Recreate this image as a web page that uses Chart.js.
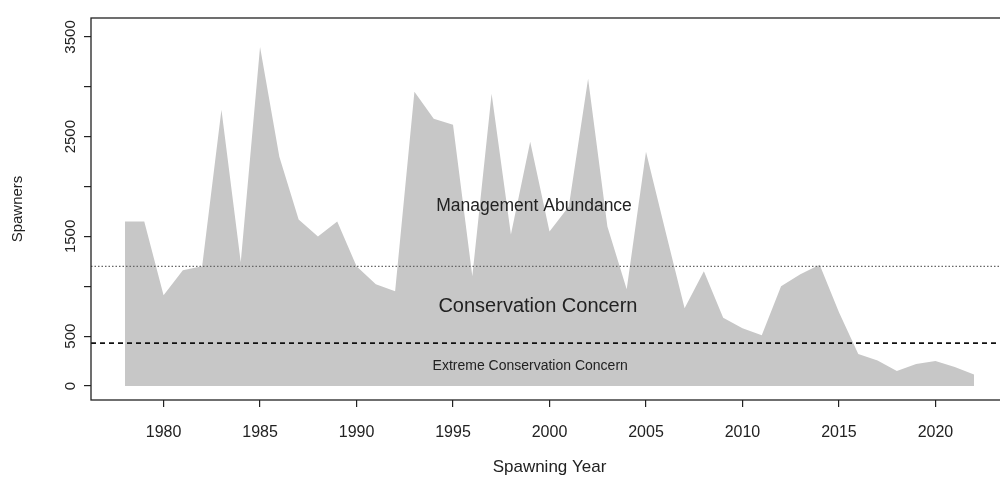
<!DOCTYPE html>
<html>
<head>
<meta charset="utf-8">
<script src="https://cdn.jsdelivr.net/npm/chart.js@4.4.0/dist/chart.umd.min.js"></script>
<style>
  html, body { margin: 0; padding: 0; background: #fff; overflow: hidden; }
  #wrap { width: 1010px; height: 484px; }
</style>
</head>
<body>
<div id="wrap"><canvas id="spawnChart" width="1010" height="484"></canvas></div>
<script>
// spawning years and spawner counts
const years = [1978, 1979, 1980, 1981, 1982, 1983, 1984, 1985, 1986, 1987,
  1988, 1989, 1990, 1991, 1992, 1993, 1994, 1995, 1996, 1997,
  1998, 1999, 2000, 2001, 2002, 2003, 2004, 2005, 2006, 2007,
  2008, 2009, 2010, 2011, 2012, 2013, 2014, 2015, 2016, 2017,
  2018, 2019, 2020, 2021, 2022];
const spawners = [1650, 1650, 910, 1160, 1200, 2770, 1240, 3400, 2300, 1670,
  1500, 1650, 1200, 1020, 950, 2950, 2680, 2620, 1100, 2930,
  1520, 2450, 1550, 1800, 3080, 1600, 970, 2350, 1560, 780,
  1150, 685, 580, 510, 1000, 1120, 1215, 740, 320, 255,
  150, 220, 250, 190, 115];

// reference levels
const managementLevel = 1200;
const extremeLevel = 430;

const xTicks = [1980, 1985, 1990, 1995, 2000, 2005, 2010, 2015, 2020];
const yTicks = [0, 500, 1000, 1500, 2000, 2500, 3000, 3500];
const yTickLabels = ['0', '500', '', '1500', '', '2500', '', '3500'];
const zoneNames = ['Management Abundance', 'Conservation Concern', 'Extreme Conservation Concern'];

const xMin = 1976.24, xMax = 2023.76;
const FONT = "'Liberation Sans', Arial, sans-serif";

const boxPlugin = {
  id: 'box',
  afterDatasetsDraw(chart) {
    const a = chart.chartArea, ctx = chart.ctx;
    ctx.save();
    ctx.strokeStyle = '#222';
    ctx.lineWidth = 1.3;
    ctx.strokeRect(a.left, a.top, a.right - a.left, a.bottom - a.top);
    ctx.restore();
  }
};

// text inside the zones, placed in data units
const zonePlugin = {
  id: 'zones',
  afterDatasetsDraw(chart) {
    const ctx = chart.ctx, xs = chart.scales.x, ys = chart.scales.y;
    const spots = [
      { year: 1999.2, value: 1800, size: 17.5 },
      { year: 1999.4, value: 800, size: 20 },
      { year: 1999.0, value: 200, size: 14 }
    ];
    ctx.save();
    ctx.fillStyle = '#222';
    ctx.textAlign = 'center';
    ctx.textBaseline = 'middle';
    zoneNames.forEach((name, i) => {
      ctx.font = spots[i].size + 'px ' + FONT;
      ctx.fillText(name, xs.getPixelForValue(spots[i].year), ys.getPixelForValue(spots[i].value));
    });
    ctx.restore();
  }
};

const ctx = document.getElementById('spawnChart');
const chart = new Chart(ctx, {
  type: 'line',
  data: {
    datasets: [
      {
        label: 'Spawners',
        data: years.map((yr, i) => ({ x: yr, y: spawners[i] })),
        fill: 'origin',
        backgroundColor: '#c7c7c7',
        borderWidth: 0,
        borderColor: 'rgba(0,0,0,0)',
        pointRadius: 0,
        tension: 0,
        order: 2
      },
      {
        label: 'Management',
        data: [{ x: xMin, y: managementLevel }, { x: xMax, y: managementLevel }],
        borderColor: '#666',
        borderWidth: 1.4,
        borderDash: [1.5, 2],
        pointRadius: 0,
        fill: false,
        order: 1
      },
      {
        label: 'Extreme',
        data: [{ x: xMin, y: extremeLevel }, { x: xMax, y: extremeLevel }],
        borderColor: '#111',
        borderWidth: 1.6,
        borderDash: [5, 4],
        pointRadius: 0,
        fill: false,
        order: 1
      }
    ]
  },
  options: {
    responsive: false,
    animation: false,
    devicePixelRatio: 1,
    layout: { padding: { top: 18, right: 2, left: 0, bottom: 0 } },
    plugins: { legend: { display: false }, tooltip: { enabled: false } },
    scales: {
      x: {
        type: 'linear',
        min: xMin,
        max: xMax,
        afterBuildTicks: axis => { axis.ticks = xTicks.map(v => ({ value: v })); },
        afterFit: scale => { scale.height = 84; },
        grid: { display: true, drawOnChartArea: false, drawTicks: true, tickLength: 7, color: '#222', lineWidth: 1.2 },
        border: { display: false },
        ticks: {
          autoSkip: false,
          maxRotation: 0,
          padding: 16,
          color: '#222',
          font: { family: FONT, size: 16 },
          callback: v => String(v)
        },
        title: {
          display: true,
          text: 'Spawning Year',
          color: '#222',
          font: { family: FONT, size: 17 },
          padding: 6
        }
      },
      y: {
        type: 'linear',
        min: -140,
        max: 3690,
        afterBuildTicks: axis => { axis.ticks = yTicks.map(v => ({ value: v })); },
        afterFit: scale => { scale.width = 91; },
        grid: { display: true, drawOnChartArea: false, drawTicks: true, tickLength: 7, color: '#222', lineWidth: 1.2 },
        border: { display: false },
        ticks: {
          autoSkip: false,
          minRotation: 90,
          maxRotation: 90,
          crossAlign: 'center',
          padding: -4,
          color: '#222',
          font: { family: FONT, size: 15 },
          callback: v => yTickLabels[yTicks.indexOf(v)]
        },
        title: {
          display: true,
          text: 'Spawners',
          color: '#222',
          font: { family: FONT, size: 15 },
          padding: 9
        }
      }
    }
  },
  plugins: [boxPlugin, zonePlugin]
});
</script>
</body>
</html>
